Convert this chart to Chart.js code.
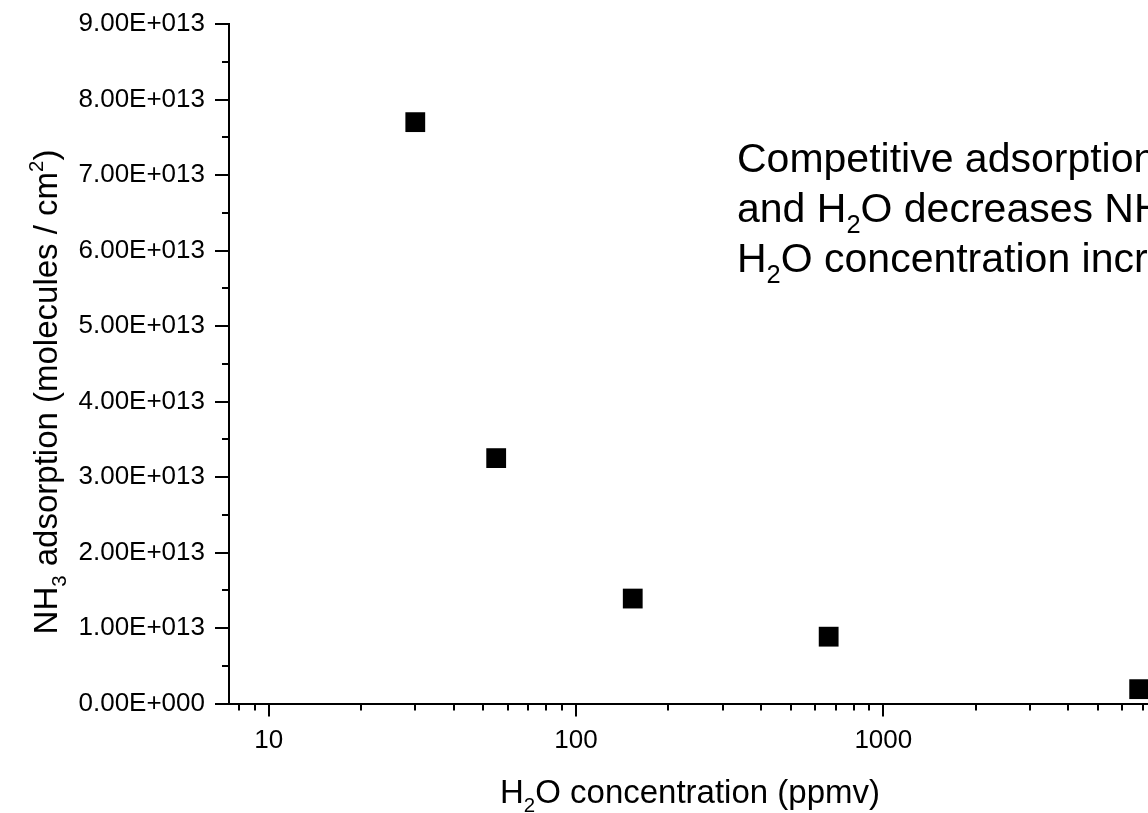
<!DOCTYPE html>
<html><head><meta charset="utf-8">
<script src="https://cdn.jsdelivr.net/npm/chart.js@4/dist/chart.umd.min.js"></script>
<style>
html,body{margin:0;padding:0;overflow:hidden;background:#fff;width:1148px;height:813px}
#wrap{position:absolute;left:0;top:0;width:1165px;height:813px}
</style></head><body>
<div id="wrap"><canvas id="c" width="1165" height="813"></canvas></div>
<script>
// ---- data ----
const h2oConc = [30, 55, 153, 664, 6800];
const nh3Ads = [7.70e13, 3.25e13, 1.39e13, 0.885e13, 0.19e13];
const xMajorTicks = [10, 100, 1000];
const xMinorTicks = [8, 9, 20, 30, 40, 50, 60, 70, 80, 90, 200, 300, 400, 500, 600, 700, 800, 900, 2000, 3000, 4000, 5000, 6000, 7000];
const yMajorTicks = [0, 1e13, 2e13, 3e13, 4e13, 5e13, 6e13, 7e13, 8e13, 9e13];
const yMinorTicks = [0.5e13, 1.5e13, 2.5e13, 3.5e13, 4.5e13, 5.5e13, 6.5e13, 7.5e13, 8.5e13];
const xTitleRuns = [['H', ''], ['2', 'sub'], ['O concentration (ppmv)', '']];
const yTitleRuns = [['NH', ''], ['3', 'sub'], [' adsorption (molecules / cm', ''], ['2', 'sup'], [')', '']];
const noteLines = [
  [['Competitive adsorption of NH', ''], ['3', 'sub']],
  [['and H', ''], ['2', 'sub'], ['O decreases NH', ''], ['3', 'sub'], [' adsorption as', '']],
  [['H', ''], ['2', 'sub'], ['O concentration increases', '']]
];

const FONT = '"Liberation Sans", Arial, Helvetica, sans-serif';

function sciLabel(v) {
  if (v === 0) return '0.00E+000';
  const e = Math.floor(Math.log10(v) + 1e-9);
  const m = v / Math.pow(10, e);
  return m.toFixed(2) + 'E' + (e >= 0 ? '+' : '-') + String(Math.abs(e)).padStart(3, '0');
}

function runsWidth(ctx, runs, size) {
  let w = 0;
  for (const [t, k] of runs) {
    const s = k ? size * 0.62 : size;
    ctx.font = s + 'px ' + FONT;
    w += ctx.measureText(t).width;
  }
  return w;
}
function drawRuns(ctx, runs, x, y, size) {
  let cx = x;
  ctx.textAlign = 'left';
  ctx.textBaseline = 'alphabetic';
  for (const [t, k] of runs) {
    const s = k ? size * 0.62 : size;
    const dy = k === 'sub' ? size * 0.28 : (k === 'sup' ? -size * 0.42 : 0);
    ctx.font = s + 'px ' + FONT;
    ctx.fillText(t, cx, y + dy);
    cx += ctx.measureText(t).width;
  }
}

const decorPlugin = {
  id: 'decor',
  afterDraw(chart) {
    const ctx = chart.ctx;
    const xs = chart.scales.x, ys = chart.scales.y;
    const area = chart.chartArea;
    ctx.save();
    ctx.strokeStyle = '#000';
    ctx.fillStyle = '#000';
    ctx.lineWidth = 2;
    ctx.beginPath();
    for (const v of xMajorTicks) { const p = Math.round(xs.getPixelForValue(v)); ctx.moveTo(p, area.bottom); ctx.lineTo(p, area.bottom + 13); }
    for (const v of xMinorTicks) { const p = Math.round(xs.getPixelForValue(v)); ctx.moveTo(p, area.bottom); ctx.lineTo(p, area.bottom + 7); }
    for (const v of yMajorTicks) { const p = Math.round(ys.getPixelForValue(v)); ctx.moveTo(area.left, p); ctx.lineTo(area.left - 14, p); }
    for (const v of yMinorTicks) { const p = Math.round(ys.getPixelForValue(v)); ctx.moveTo(area.left, p); ctx.lineTo(area.left - 7, p); }
    ctx.stroke();

    // x title
    const xsz = 33;
    const xw = runsWidth(ctx, xTitleRuns, xsz);
    drawRuns(ctx, xTitleRuns, (area.left + area.right) / 2 - xw / 2, 803, xsz);

    // y title
    const ysz = 33;
    const yw = runsWidth(ctx, yTitleRuns, ysz);
    ctx.save();
    ctx.translate(57, 392);
    ctx.rotate(-Math.PI / 2);
    drawRuns(ctx, yTitleRuns, -yw / 2, 0, ysz);
    ctx.restore();

    // annotation
    const nsz = 41;
    const baselines = [172, 222, 272];
    noteLines.forEach((runs, i) => drawRuns(ctx, runs, 737, baselines[i], nsz));
    ctx.restore();
  }
};

new Chart(document.getElementById('c'), {
  type: 'scatter',
  data: {
    datasets: [{
      data: h2oConc.map((x, i) => ({ x: x, y: nh3Ads[i] })),
      pointStyle: 'rect',
      pointRadius: 14,
      pointHoverRadius: 14,
      backgroundColor: '#000',
      borderColor: '#000',
      borderWidth: 0,
      clip: false
    }]
  },
  options: {
    responsive: false,
    animation: false,
    events: [],
    layout: { padding: { left: 0, right: 4, top: 24, bottom: 0 } },
    plugins: { legend: { display: false }, tooltip: { enabled: false } },
    scales: {
      x: {
        type: 'logarithmic',
        min: 7.43, max: 7430,
        afterBuildTicks: (s) => { s.ticks = xMajorTicks.map(v => ({ value: v })); },
        afterFit: (s) => { s.height = 813 - 703.5; s.paddingLeft = 0; s.paddingRight = 0; },
        grid: { display: false, drawTicks: false },
        border: { display: true, color: '#000', width: 2 },
        ticks: {
          autoSkip: false, maxRotation: 0, padding: 22, color: '#000',
          font: { family: FONT, size: 26 },
          callback: (v) => String(v)
        }
      },
      y: {
        type: 'linear',
        min: 0, max: 9e13,
        afterBuildTicks: (s) => { s.ticks = yMajorTicks.map(v => ({ value: v })); },
        afterFit: (s) => { s.width = 229; s.paddingTop = 0; s.paddingBottom = 0; },
        grid: { display: false, drawTicks: false },
        border: { display: true, color: '#000', width: 2 },
        ticks: {
          autoSkip: false, padding: 24, color: '#000',
          font: { family: FONT, size: 26 },
          callback: (v) => sciLabel(v)
        }
      }
    }
  },
  plugins: [decorPlugin]
});
</script>
</body></html>
